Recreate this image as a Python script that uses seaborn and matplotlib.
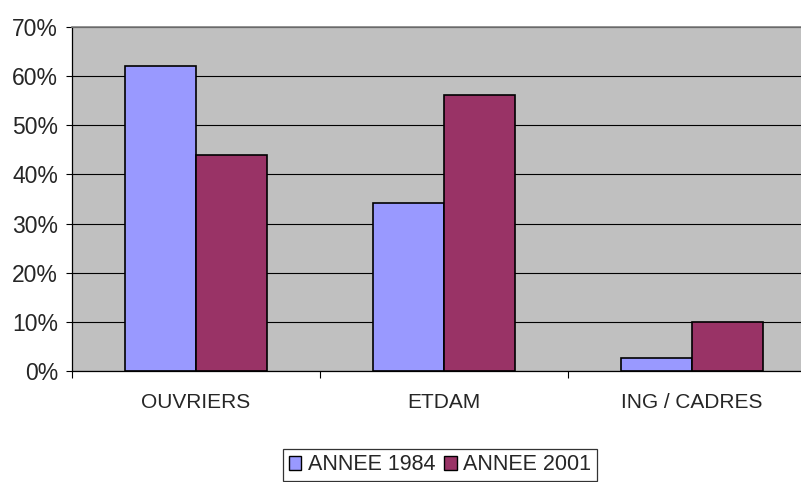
import numpy as np
import pandas as pd
import matplotlib
matplotlib.use("Agg")
import matplotlib.pyplot as plt
import seaborn as sns
from matplotlib.ticker import FixedLocator, FuncFormatter

# data
categories = ["OUVRIERS", "ETDAM", "ING / CADRES"]
annee_1984 = [62.0, 34.1, 2.7]
annee_2001 = [44.0, 56.1, 10.0]
series_names = ["ANNEE 1984", "ANNEE 2001"]
colors = ["#9999FF", "#993366"]

df = pd.DataFrame({
    "cat": categories * 2,
    "serie": [series_names[0]] * 3 + [series_names[1]] * 3,
    "val": annee_1984 + annee_2001,
})

sns.set_style("white")
plt.rcParams["font.family"] = ["Liberation Sans", "DejaVu Sans"]

fig = plt.figure(figsize=(8.01, 4.82), dpi=100)
ax = fig.add_axes([72 / 801, 111 / 482, 744 / 801, 344 / 482])
ax.set_facecolor("#C0C0C0")

sns.barplot(data=df, x="cat", y="val", hue="serie", palette=colors,
            width=0.57, edgecolor="black", linewidth=1.2, ax=ax,
            legend=True, errorbar=None, saturation=1)

ax.set_ylim(0, 70)
ax.set_xlim(-0.5, 2.5)
ax.set_yticks(np.arange(0, 71, 10))
ax.yaxis.set_major_formatter(FuncFormatter(lambda v, p: f"{v:.0f}%"))
ax.yaxis.grid(True, color="black", linewidth=0.8)
ax.set_axisbelow(True)

# excel style: tick marks between categories, labels centred
ax.xaxis.set_major_locator(FixedLocator([-0.5, 0.5, 1.5, 2.5]))
ax.xaxis.set_minor_locator(FixedLocator([0, 1, 2]))
ax.xaxis.set_major_formatter(FuncFormatter(lambda v, p: ""))
ax.xaxis.set_minor_formatter(FuncFormatter(lambda v, p: categories[int(round(v))]))
ax.tick_params(axis="x", which="major", direction="out", length=5, width=0.8, color="black", bottom=True)
ax.tick_params(axis="x", which="minor", length=0, pad=16, labelsize=15)
ax.tick_params(axis="y", direction="out", length=4, width=0.8, color="black", left=True, pad=6, labelsize=16.5)
ax.set_xlabel("")
ax.set_ylabel("")

for s in ["left", "bottom"]:
    ax.spines[s].set_color("black")
    ax.spines[s].set_linewidth(0.9)
ax.spines["top"].set_color("#808080")
ax.spines["top"].set_linewidth(1.2)
ax.spines["right"].set_visible(False)

ax.get_legend().remove()
handles = [plt.Rectangle((0, 0), 1, 1, facecolor=c, edgecolor="black", linewidth=1.0) for c in colors]
leg = fig.legend(handles, series_names, loc="center", bbox_to_anchor=(440 / 801, 17 / 482),
                 ncol=2, frameon=True, fancybox=False, edgecolor="black", fontsize=15.5,
                 handlelength=0.6, handleheight=0.6, handletextpad=0.3, columnspacing=0.4,
                 borderpad=0.25, borderaxespad=0)
leg.get_frame().set_linewidth(0.9)

fig.savefig("out.png", dpi=100)
